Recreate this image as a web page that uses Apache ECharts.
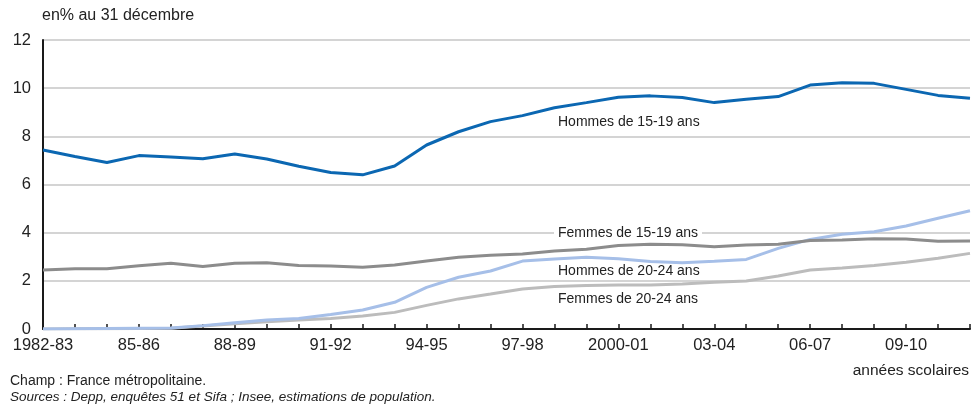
<!DOCTYPE html>
<html lang="fr">
<head>
    <meta charset="UTF-8">
    <title>Apprentis</title>
    <script src="https://cdn.jsdelivr.net/npm/echarts@6/dist/echarts.min.js"></script>
    <style>
        html, body { margin: 0; padding: 0; background: #fff; }
        #main { width: 972px; height: 405px; }
    </style>
</head>
<body>
<div id="main"></div>
<script>
    var FONT = '"Liberation Sans", Arial, sans-serif';

    var annees = ['1982-83','83-84','84-85','85-86','86-87','87-88','88-89','89-90','90-91','91-92',
        '92-93','93-94','94-95','95-96','96-97','97-98','98-99','99-2000','2000-01','01-02',
        '02-03','03-04','04-05','05-06','06-07','07-08','08-09','09-10','10-11','11-12'];

    var hommes1519 = [7.43, 7.16, 6.91, 7.20, 7.14, 7.07, 7.27, 7.06, 6.76, 6.50,
        6.40, 6.77, 7.64, 8.19, 8.61, 8.86, 9.19, 9.40, 9.62, 9.68,
        9.61, 9.40, 9.54, 9.65, 10.13, 10.22, 10.20, 9.95, 9.70, 9.58];
    var femmes1519 = [2.45, 2.50, 2.50, 2.63, 2.73, 2.60, 2.73, 2.75, 2.64, 2.62,
        2.56, 2.66, 2.82, 2.98, 3.06, 3.11, 3.24, 3.31, 3.47, 3.52,
        3.50, 3.42, 3.49, 3.52, 3.67, 3.70, 3.75, 3.74, 3.64, 3.65];
    var hommes2024 = [0.00, 0.01, 0.02, 0.03, 0.04, 0.14, 0.26, 0.37, 0.44, 0.60,
        0.79, 1.11, 1.73, 2.15, 2.41, 2.82, 2.91, 2.98, 2.92, 2.80,
        2.75, 2.81, 2.89, 3.35, 3.72, 3.93, 4.04, 4.28, 4.60, 4.91];
    var femmes2024 = [0.00, 0.01, 0.01, 0.02, 0.03, 0.12, 0.22, 0.30, 0.37, 0.44,
        0.54, 0.69, 0.98, 1.25, 1.45, 1.66, 1.76, 1.81, 1.83, 1.83,
        1.87, 1.94, 1.99, 2.20, 2.45, 2.53, 2.64, 2.77, 2.94, 3.14];

    var yTicks = [0, 2, 4, 6, 8, 10, 12];

    function serie(nom, data, couleur) {
        return {
            name: nom,
            type: 'line',
            data: data,
            symbol: 'none',
            smooth: false,
            lineStyle: { color: couleur, width: 3 },
            itemStyle: { color: couleur }
        };
    }

    var chart = echarts.init(document.getElementById('main'));
    chart.setOption({
        animation: false,
        textStyle: { fontFamily: FONT },
        grid: { left: 43, right: 2, top: 40, bottom: 76 },
        xAxis: {
            type: 'category',
            data: annees,
            boundaryGap: false,
            axisLine: { lineStyle: { color: '#1a1a1a', width: 2 } },
            axisTick: { show: true, inside: true, interval: 0, length: 5, lineStyle: { color: '#1a1a1a', width: 1.5 } },
            axisLabel: { interval: 2, color: '#222', fontSize: 16.5, fontFamily: FONT, margin: 8 },
            splitLine: { show: false }
        },
        yAxis: {
            type: 'value',
            min: yTicks[0],
            max: yTicks[yTicks.length - 1],
            interval: 2,
            axisLine: { show: true, lineStyle: { color: '#1a1a1a', width: 2 } },
            axisTick: { show: false },
            axisLabel: { color: '#222', fontSize: 16.5, fontFamily: FONT, margin: 12 },
            splitLine: { lineStyle: { color: '#c6c6c6', width: 1.5 } }
        },
        series: [
            serie('Femmes de 20-24 ans', femmes2024, '#bcbcbc'),
            serie('Hommes de 20-24 ans', hommes2024, '#a6bfe8'),
            serie('Femmes de 15-19 ans', femmes1519, '#8c8c8c'),
            serie('Hommes de 15-19 ans', hommes1519, '#0b67b2')
        ],
        graphic: [
            { type: 'text', left: 42, top: 8, style: { text: 'en% au 31 décembre', font: '16px ' + FONT, fill: '#222' } },
            { type: 'text', left: 558, top: 115, style: { text: 'Hommes de 15-19 ans', font: '14px ' + FONT, fill: '#222' } },
            { type: 'rect', left: 554, top: 227, z: 100, shape: { width: 148, height: 13 }, style: { fill: '#fff' } },
            { type: 'text', left: 558, top: 226, z: 101, style: { text: 'Femmes de 15-19 ans', font: '14px ' + FONT, fill: '#222' } },
            { type: 'text', left: 558, top: 264, style: { text: 'Hommes de 20-24 ans', font: '14px ' + FONT, fill: '#222' } },
            { type: 'text', left: 558, top: 292, style: { text: 'Femmes de 20-24 ans', font: '14px ' + FONT, fill: '#222' } },
            { type: 'text', right: 3, top: 363, style: { text: 'années scolaires', font: '15.5px ' + FONT, fill: '#222' } },
            { type: 'text', left: 10, top: 374, style: { text: 'Champ : France métropolitaine.', font: '14px ' + FONT, fill: '#222' } },
            { type: 'text', left: 10, top: 390, style: { text: 'Sources : Depp, enquêtes 51 et Sifa ; Insee, estimations de population.', font: 'italic 13.5px ' + FONT, fill: '#222' } }
        ]
    });
</script>
</body>
</html>
